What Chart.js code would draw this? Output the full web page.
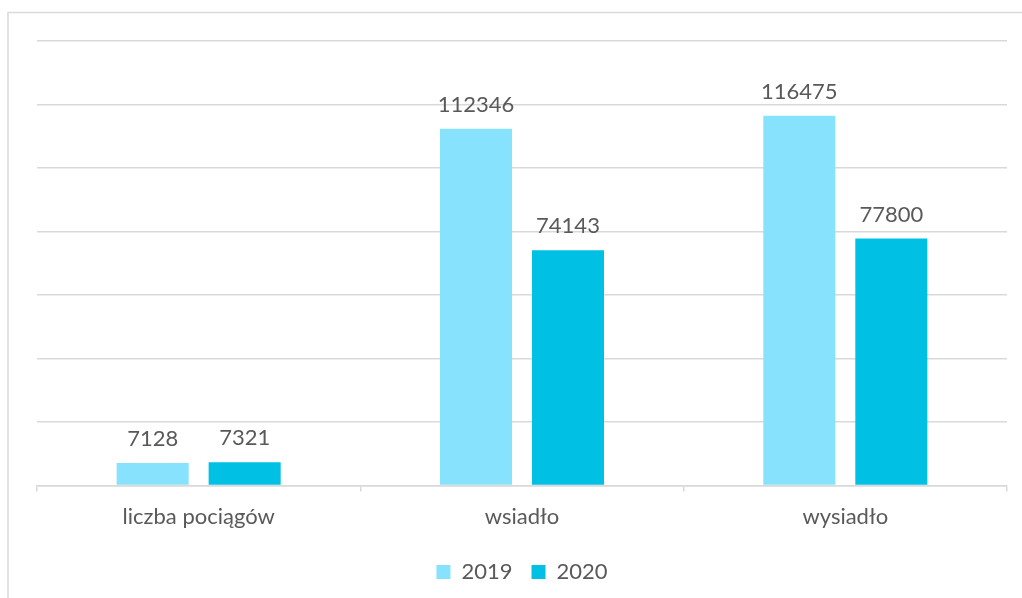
<!DOCTYPE html>
<html>
<head>
<meta charset="utf-8">
<script src="https://cdn.jsdelivr.net/npm/chart.js@4/dist/chart.umd.min.js"></script>
<style>
html,body{margin:0;padding:0;background:#fff;}
#wrap{position:absolute;left:0;top:0;width:1022px;height:598px;}
</style>
</head>
<body>
<div id="wrap"><canvas id="c" width="1022" height="598"></canvas></div>
<script>
const categories = ["liczba pociągów", "wsiadło", "wysiadło"];
const series2019 = [7128, 112346, 116475];
const series2020 = [7321, 74143, 77800];
const seriesNames = ["2019", "2020"];

const FONT = "Lato, 'Liberation Sans', sans-serif";
const TEXT = "#595959";
const GRID = "#d9d9d9";

const frame = {
  id: 'frame',
  beforeDraw(chart) {
    const ctx = chart.ctx;
    ctx.save();
    ctx.strokeStyle = GRID;
    ctx.lineWidth = 1.5;
    ctx.beginPath();
    ctx.moveTo(8, 600);
    ctx.lineTo(8, 12.5);
    ctx.lineTo(1022, 12.5);
    ctx.stroke();
    ctx.restore();
  }
};

const valueLabels = {
  id: 'valueLabels',
  afterDatasetsDraw(chart) {
    const ctx = chart.ctx;
    ctx.save();
    ctx.font = "22px " + FONT;
    ctx.fillStyle = TEXT;
    ctx.textAlign = 'center';
    ctx.textBaseline = 'bottom';
    chart.data.datasets.forEach((ds, i) => {
      const meta = chart.getDatasetMeta(i);
      meta.data.forEach((el, j) => {
        ctx.fillText(String(ds.data[j]), el.x, el.y - 13);
      });
    });
    ctx.restore();
  }
};

new Chart(document.getElementById('c'), {
  type: 'bar',
  data: {
    labels: categories,
    datasets: [
      { label: seriesNames[0], data: series2019, backgroundColor: '#87E2FD', categoryPercentage: 0.569, barPercentage: 0.783 },
      { label: seriesNames[1], data: series2020, backgroundColor: '#00C1E3', categoryPercentage: 0.569, barPercentage: 0.783 }
    ]
  },
  options: {
    responsive: false,
    animation: false,
    devicePixelRatio: 1,
    layout: { padding: { left: 37, right: 15, top: 41, bottom: 5 } },
    plugins: {
      legend: {
        position: 'bottom',
        labels: {
          boxWidth: 14, boxHeight: 14, padding: 19,
          color: TEXT,
          font: { family: FONT, size: 22 }
        }
      },
      tooltip: { enabled: false }
    },
    scales: {
      x: {
        grid: { display: true, drawOnChartArea: false, drawTicks: true, tickLength: 6, color: GRID, lineWidth: 1.5 },
        border: { display: true, color: GRID, width: 1.5 },
        ticks: { color: TEXT, font: { family: FONT, size: 22 }, padding: 12 }
      },
      y: {
        min: 0, max: 140000,
        ticks: { stepSize: 20000, display: false },
        grid: { color: GRID, lineWidth: 1.5, drawTicks: false },
        border: { display: false }
      }
    }
  },
  plugins: [frame, valueLabels]
});
</script>
</body>
</html>
